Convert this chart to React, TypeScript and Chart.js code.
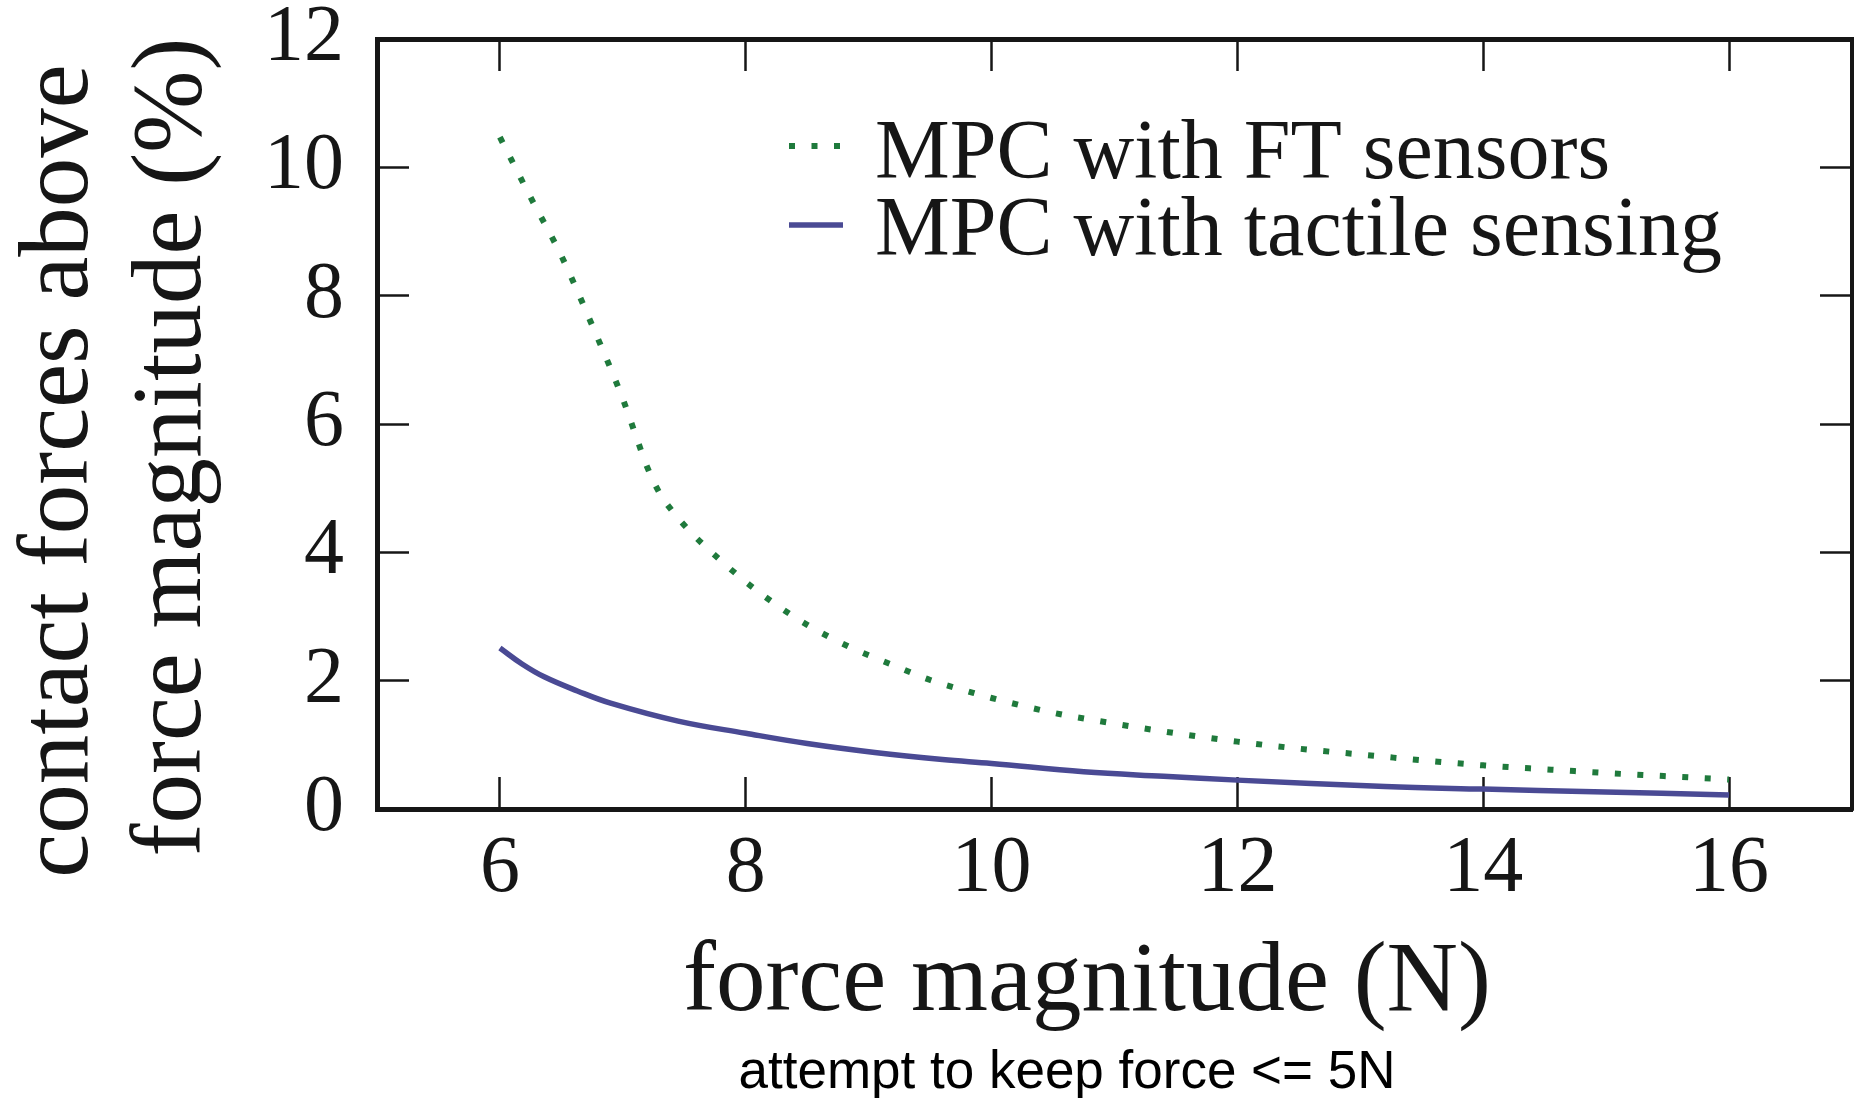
import React, { useEffect, useRef } from "react";
import { Chart, registerables } from "chart.js";

Chart.register(...registerables);

// ---- data ----
const X_TICKS = [6, 8, 10, 12, 14, 16];
const Y_TICKS = [0, 2, 4, 6, 8, 10, 12];
const X_RANGE = [5, 17];
const Y_RANGE = [0, 12];

const SERIES_LABELS = ["MPC with FT sensors", "MPC with tactile sensing"];

const FORCE_FT = [6.0, 6.25, 6.5, 6.75, 7.0, 7.1, 7.2, 7.3, 7.4, 7.55, 7.7, 8.0, 8.25, 8.5, 8.85, 9.2, 9.5, 9.85, 10.0, 10.5, 11.0, 11.5, 12.0, 12.5, 13.0, 13.5, 14.0, 14.5, 15.0, 15.5, 16.0];
const PCT_FT = [10.47, 9.53, 8.62, 7.54, 6.39, 5.85, 5.32, 4.92, 4.65, 4.32, 4.04, 3.54, 3.18, 2.87, 2.52, 2.24, 2.01, 1.81, 1.73, 1.5, 1.33, 1.18, 1.05, 0.94, 0.85, 0.76, 0.68, 0.62, 0.56, 0.51, 0.46];

const FORCE_TACTILE = [6.0, 6.18, 6.36, 6.63, 6.9, 7.45, 8.0, 8.5, 9.05, 9.6, 10.0, 10.75, 11.4, 12.0, 13.2, 14.0, 14.9, 16.0];
const PCT_TACTILE = [2.51, 2.26, 2.06, 1.84, 1.65, 1.37, 1.18, 1.02, 0.88, 0.77, 0.71, 0.58, 0.51, 0.45, 0.35, 0.31, 0.27, 0.22];

const X_TITLE = "force magnitude (N)";
const Y_TITLE = ["contact forces above", "force magnitude (%)"];
const NOTE = "attempt to keep force <= 5N";

// ---- style ----
const INK = "#161616";
const GREEN = "#1f7a3c";
const BLUE = "#4a4a94";
const SERIF = "'Liberation Serif', 'DejaVu Serif', serif";
const SANS = "'Liberation Sans', Arial, sans-serif";
const W = 1854;
const H = 1098;

const setTicks = (vals: number[]) => (scale: any) => {
  scale.ticks = vals.map((v) => ({ value: v }));
};

const fixSize = (dim: "width" | "height", size: number) => (s: any) => {
  s[dim] = size;
  s.paddingTop = 0;
  s.paddingBottom = 0;
  s.paddingLeft = 0;
  s.paddingRight = 0;
};

const inwardGrid = {
  display: true,
  drawOnChartArea: false,
  drawTicks: true,
  tickLength: -32,
  tickWidth: 2.5,
  tickColor: INK,
};
const frameBorder = { display: true, width: 5, color: INK };

const textPlugin = {
  id: "paperText",
  afterDraw(chart: any) {
    const { ctx, chartArea: a } = chart;
    ctx.save();
    ctx.fillStyle = INK;

    // y-axis title (two rotated lines)
    ctx.font = `99px ${SERIF}`;
    ctx.textAlign = "center";
    ctx.textBaseline = "alphabetic";
    const baseX = [a.left - 290, a.left - 177];
    const midY = [a.top + 432, a.top + 408];
    Y_TITLE.forEach((line, i) => {
      ctx.save();
      ctx.translate(baseX[i], midY[i]);
      ctx.rotate(-Math.PI / 2);
      ctx.fillText(line, 0, 0);
      ctx.restore();
    });

    // x-axis title
    ctx.font = `99px ${SERIF}`;
    ctx.fillText(X_TITLE, a.left + 710, a.bottom + 201);

    // note
    ctx.font = `53px ${SANS}`;
    ctx.fillStyle = "#000";
    ctx.fillText(NOTE, a.left + 690, a.bottom + 279);

    // legend inside the plot
    const rowsSample = [a.top + 107, a.top + 186];
    const rowsBase = [a.top + 139, a.top + 216];
    chart.data.datasets.forEach((ds: any, i: number) => {
      ctx.save();
      ctx.strokeStyle = ds.borderColor;
      ctx.lineWidth = ds.borderWidth;
      ctx.lineCap = "butt";
      ctx.setLineDash(ds.borderDash || []);
      ctx.beginPath();
      ctx.moveTo(a.left + 412, rowsSample[i]);
      ctx.lineTo(a.left + 466, rowsSample[i]);
      ctx.stroke();
      ctx.restore();
      ctx.font = `84px ${SERIF}`;
      ctx.fillStyle = INK;
      ctx.textAlign = "left";
      ctx.fillText(ds.label, a.left + 498, rowsBase[i]);
    });
    ctx.restore();
  },
};

export default function App() {
  const ref = useRef<HTMLCanvasElement>(null);

  useEffect(() => {
    const canvas = ref.current;
    if (!canvas) return;
    const tickFont = { family: SERIF, size: 80 };
    const chart = new Chart(canvas, {
      type: "line",
      data: {
        datasets: [
          {
            label: SERIES_LABELS[0],
            data: FORCE_FT.map((x, i) => ({ x, y: PCT_FT[i] })),
            borderColor: GREEN,
            borderWidth: 6,
            borderDash: [6, 16.5],
            borderCapStyle: "butt",
            pointRadius: 0,
            cubicInterpolationMode: "monotone",
            fill: false,
            xAxisID: "x",
            yAxisID: "y",
          },
          {
            label: SERIES_LABELS[1],
            data: FORCE_TACTILE.map((x, i) => ({ x, y: PCT_TACTILE[i] })),
            borderColor: BLUE,
            borderWidth: 5.5,
            borderCapStyle: "butt",
            pointRadius: 0,
            tension: 0.4,
            fill: false,
            xAxisID: "x",
            yAxisID: "y",
          },
        ],
      } as any,
      options: {
        responsive: false,
        animation: false,
        devicePixelRatio: 1,
        layout: { padding: 0 },
        plugins: {
          legend: { display: false },
          tooltip: { enabled: false },
          title: { display: false },
        },
        scales: {
          x: {
            type: "linear",
            position: "bottom",
            min: X_RANGE[0],
            max: X_RANGE[1],
            afterBuildTicks: setTicks(X_TICKS),
            afterFit: fixSize("height", 289),
            grid: inwardGrid,
            border: frameBorder,
            ticks: { font: tickFont, color: INK, padding: 45, maxRotation: 0, autoSkip: false },
          },
          y: {
            type: "linear",
            position: "left",
            min: Y_RANGE[0],
            max: Y_RANGE[1],
            afterBuildTicks: setTicks(Y_TICKS),
            afterFit: fixSize("width", 377),
            grid: inwardGrid,
            border: frameBorder,
            ticks: { font: tickFont, color: INK, padding: 65, autoSkip: false },
          },
          xTop: {
            type: "linear",
            position: "top",
            min: X_RANGE[0],
            max: X_RANGE[1],
            afterBuildTicks: setTicks(X_TICKS),
            afterFit: fixSize("height", 39),
            grid: inwardGrid,
            border: frameBorder,
            ticks: { display: false },
          },
          yRight: {
            type: "linear",
            position: "right",
            min: Y_RANGE[0],
            max: Y_RANGE[1],
            afterBuildTicks: setTicks(Y_TICKS),
            afterFit: fixSize("width", 2),
            grid: inwardGrid,
            border: frameBorder,
            ticks: { display: false },
          },
        },
      } as any,
      plugins: [textPlugin],
    });
    return () => chart.destroy();
  }, []);

  return (
    <div style={{ position: "absolute", left: 0, top: 0, width: W, height: H, background: "#fff" }}>
      <canvas ref={ref} width={W} height={H} style={{ display: "block", width: W, height: H }} />
    </div>
  );
}
